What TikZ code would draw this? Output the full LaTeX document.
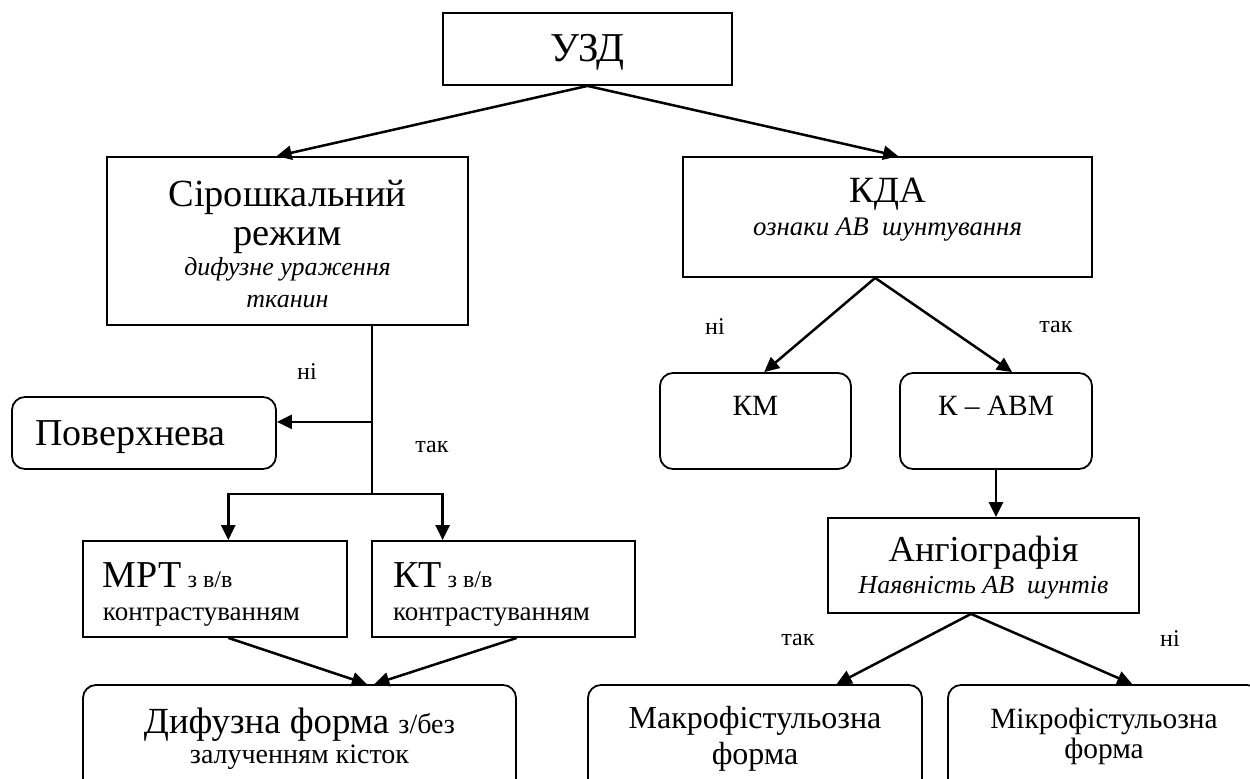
\documentclass[tikz,border=0pt]{standalone}
\usepackage{fontspec}
\setmainfont{Liberation Serif}
\usetikzlibrary{arrows.meta,calc}

\newcommand{\fsz}[2]{\fontsize{#1}{#2}\selectfont}

\begin{document}
\begin{tikzpicture}[x=0.5pt,y=-0.5pt,
    box/.style={draw,line width=0.9pt,inner sep=0pt,align=center},
    rbox/.style={box,rounded corners=6.5pt},
    link/.style={line width=1.25pt,-{Triangle[length=7.5pt,width=7pt]}},
    trunk/.style={line width=0.9pt},
    answer/.style={font=\fsz{12}{14}}]

    % --- Frame ---
    \useasboundingbox (0,0) rectangle (1250,778);
    \clip (0,0) rectangle (1250,778);

    % --- Boxes ---
    \node[box,minimum width=144.5pt,minimum height=36pt,text height=14.5pt,text depth=2pt,
        font=\fsz{20.5}{24}] (uzd) at (587.5,49) {УЗД};

    \node[box,minimum width=180.5pt,minimum height=84pt,text height=66pt,text depth=0pt,
        font=\fsz{19.2}{19.5}] (grey) at (287.5,241)
        {Сірошкальний\\режим\\[-4.5pt]{\itshape\fsz{13}{15}дифузне ураження}\\[-3.5pt]{\itshape\fsz{13}{15}тканин}};

    \node[box,minimum width=204.5pt,minimum height=60pt,text height=18pt,text depth=0pt,
        font=\fsz{18.5}{16.5}] (kda) at (887.5,217)
        {КДА\\{\itshape\fsz{13.4}{15}ознаки АВ\ \ шунтування}};

    \node[rbox,minimum width=132pt,minimum height=36pt,text width=109pt,align=flush left,inner xsep=11.5pt,
        text height=12pt,text depth=0pt,font=\fsz{19}{22}] (pov) at (144,433) {Поверхнева};

    \node[box,minimum width=132pt,minimum height=48pt,text width=112pt,align=flush left,inner xsep=10pt,
        text height=10pt,text depth=12pt,font=\fsz{19}{16.5}] (mrt) at (215,589)
        {МРТ{\fsz{12}{13}\ з в/в}\\{\fsz{13.5}{15}контрастуванням}};

    \node[box,minimum width=131.5pt,minimum height=48pt,text width=110.5pt,align=flush left,inner xsep=10.5pt,
        text height=10pt,text depth=12pt,font=\fsz{19}{16.5}] (kt) at (503.5,589)
        {КТ{\fsz{12}{13}\ з в/в}\\{\fsz{13.5}{15}контрастуванням}};

    \node[rbox,minimum width=216.5pt,minimum height=55pt,text height=23pt,text depth=0pt,
        font=\fsz{18.4}{15}] (dyf) at (299.5,740)
        {Дифузна форма {\fsz{14}{15}з/без}\\{\fsz{14}{15}залученням кісток}};

    \node[rbox,minimum width=95.5pt,minimum height=48pt,text height=9.5pt,text depth=15.5pt,
        font=\fsz{14.7}{17}] (km) at (755.5,421) {КМ};

    \node[rbox,minimum width=96pt,minimum height=48pt,text height=9.5pt,text depth=15.5pt,
        font=\fsz{14.7}{17}] (kavm) at (996,421) {К – АВМ};

    \node[box,minimum width=155.5pt,minimum height=47.5pt,text height=27.5pt,text depth=0pt,
        font=\fsz{18.3}{16}] (angio) at (983.5,565.5)
        {Ангіографія\\{\itshape\fsz{13}{15}Наявність АВ\ \ шунтів}};

    \node[rbox,minimum width=167pt,minimum height=55pt,text height=24pt,text depth=0pt,
        font=\fsz{16}{18}] (macro) at (755,740) {Макрофістульозна\\форма};

    \node[rbox,minimum width=156pt,minimum height=55pt,text height=18pt,text depth=0pt,
        font=\fsz{14.7}{15}] (micro) at (1104,740) {Мікрофістульозна\\форма};

    % --- Connectors ---
    \draw[link] (uzd.south) -- ($(grey.north west)!0.47!(grey.north east)$);
    \draw[link] (uzd.south) -- ($(kda.north west)!0.526!(kda.north east)$);

    % trunk below the grey-scale box
    \coordinate (trunkTop) at ($(grey.south west)!0.734!(grey.south east)$);
    \coordinate (povJoin) at ($(trunkTop)+(0,96)$);
    \coordinate (fork) at ($(trunkTop)+(0,168)$);
    \draw[trunk] (trunkTop) -- (fork);
    \draw[link] (povJoin) -- (povJoin -| pov.east);
    \draw[link] (fork) -| ($(mrt.north west)!0.55!(mrt.north east)$);
    \draw[link] (fork) -| ($(kt.north west)!0.27!(kt.north east)$);

    \draw[link] ($(mrt.south west)!0.55!(mrt.south east)$) -- ($(dyf.north west)!0.655!(dyf.north east)$);
    \draw[link] ($(kt.south west)!0.55!(kt.south east)$) -- ($(dyf.north west)!0.672!(dyf.north east)$);

    \draw[link] ($(kda.south west)!0.47!(kda.south east)$) -- ($(km.north west)!0.545!(km.north east)$);
    \draw[link] ($(kda.south west)!0.47!(kda.south east)$) -- ($(kavm.north west)!0.583!(kavm.north east)$);
    \draw[link] (kavm.south) -- (kavm.south |- angio.north);

    \draw[link] ($(angio.south west)!0.46!(angio.south east)$) -- ($(macro.north west)!0.743!(macro.north east)$);
    \draw[link] ($(angio.south west)!0.46!(angio.south east)$) -- ($(micro.north west)!0.59!(micro.north east)$);

    % --- Labels ---
    \node[answer] (greyNo) at (307,372) {ні};
    \node[answer] (greyYes) at (432,447) {так};
    \node[answer] (kdaNo) at (715,327) {ні};
    \node[answer] (kdaYes) at (1056,327) {так};
    \node[answer] (angioYes) at (798,640) {так};
    \node[answer] (angioNo) at (1170,639) {ні};

\end{tikzpicture}
\end{document}
